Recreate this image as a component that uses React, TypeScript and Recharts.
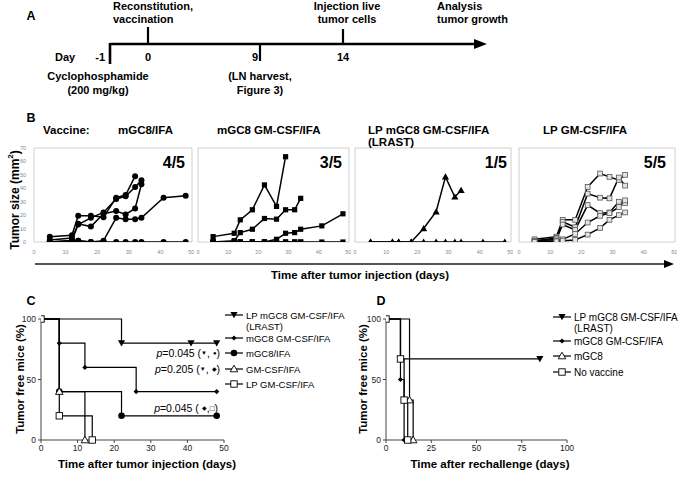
import React from "react";
import { LineChart, Line, XAxis, YAxis, ReferenceArea } from "recharts";

const FONT = '"Liberation Sans", Arial, Helvetica, sans-serif';

// A: treatment schedule
const scheduleDays = ["-1", "0", "9", "14"];
const scheduleTop = [
  ["Reconstitution,", "vaccination"],
  ["Injection live", "tumor cells"],
  ["Analysis", "tumor growth"],
];
const scheduleBottom = [
  ["Cyclophosphamide", "(200 mg/kg)"],
  ["(LN harvest,", "Figure 3)"],
];

// B: tumor size (mm2) per mouse, measured on these days
const measureDays = [5, 12, 14, 18, 22, 26, 29, 32, 34, 41, 48];
const mgc8IfaSizes = [
  [0, 1, 1, 0, 0, 0, 0, 0, 0, 0, 0],
  [0, 1, 1, 0, 1, 18, 17, 17, 18, 33, 34.5],
  [4, 5, 19.5, 19.5, 18.5, 33, 35, 49],
  [1.5, 3, 13, 18, 22, 32, 34, 41, 46],
  [0, 1, 13.5, 11.5, 21, 23, 20.5, 25, 43],
];
const mgc8GmcsfSizes = [
  [4, 6.5, 16.5, 24, 42.5, 26.5, 63.5],
  [0, 1, 7, 9.5, 17.5, 17, 24, 24, 32.5],
  [0, 0, 0, 0, 0, 2, 6.5, 7, 9.5, 12, 21],
  [0, 0, 0, 0, 0, 0, 0, 0, 0, 0, 0],
  [0, 0, 0, 0, 0, 0, 0, 0, 0],
];
const lpMgc8GmcsfSizes = [
  [0, 0, 0, 0, 0, 0, 0, 0, 0, 0, 0],
  [0, 0, 0, 0, 10, 22.5, 48.5, 33.5, 38.5],
];
const lpGmcsfSizes = [
  [2, 4, 16.5, 16.5, 41, 51, 48.5, 46, 50],
  [1, 3, 15, 11, 36, 33, 32.5, 48, 42],
  [0.5, 2, 13, 9, 27.5, 21.5, 22, 30, 29],
  [0, 1, 2, 6, 14.5, 19.5, 21.5, 26, 31],
  [0, 0.5, 1, 1.5, 5.5, 10.5, 16.5, 20, 22],
];
const vaccineTitles = ["mGC8/IFA", "mGC8 GM-CSF/IFA", "LP mGC8 GM-CSF/IFA", "LP GM-CSF/IFA"];
const tumorFractions = ["4/5", "3/5", "1/5", "5/5"];
const sizeTicks = [0, 10, 20, 30, 40, 50, 60, 70];
const dayTicks = [0, 10, 20, 30, 40, 50];

// C: tumor free mice after injection
const cGroups = ["LP mGC8 GM-CSF/IFA", "mGC8 GM-CSF/IFA", "mGC8/IFA", "GM-CSF/IFA", "LP GM-CSF/IFA"];
const cTimes = [[0, 22, 41, 48], [0, 5, 12, 26, 48], [0, 5, 22, 48], [0, 5, 12], [0, 5, 14]];
const cFree = [[100, 80, 80, 80], [100, 80, 60, 40, 40], [100, 40, 20, 20], [100, 40, 0], [100, 20, 0]];
const cPValues = ["0.045", "0.205", "0.045"];

// D: tumor free mice after rechallenge
const dGroups = ["LP mGC8 GM-CSF/IFA", "mGC8 GM-CSF/IFA", "mGC8", "No vaccine"];
const dTimes = [[0, 8, 85], [0, 8, 10], [0, 13, 15], [0, 8, 10, 12]];
const dFree = [[100, 67, 67], [100, 50, 0], [100, 33, 0], [100, 67, 33, 0]];

function shapeEl(shape: string, cx: number, cy: number) {
  switch (shape) {
    case "circle":
      return <circle cx={cx} cy={cy} r={3} fill="#000" />;
    case "square":
      return <rect x={cx - 2.6} y={cy - 2.6} width={5.2} height={5.2} fill="#000" />;
    case "triangle":
      return <polygon points={`${cx},${cy - 3.6} ${cx - 3.6},${cy + 2.6} ${cx + 3.6},${cy + 2.6}`} fill="#000" />;
    case "graySquare":
      return <rect x={cx - 2.4} y={cy - 2.4} width={4.8} height={4.8} fill="#e4e4e4" stroke="#555" strokeWidth={0.8} />;
    case "triDown":
      return <polygon points={`${cx - 3.6},${cy - 3} ${cx + 3.6},${cy - 3} ${cx},${cy + 3.2}`} fill="#000" />;
    case "diamond":
      return <polygon points={`${cx},${cy - 2.6} ${cx + 2.6},${cy} ${cx},${cy + 2.6} ${cx - 2.6},${cy}`} fill="#000" />;
    case "dot":
      return <circle cx={cx} cy={cy} r={3.3} fill="#000" />;
    case "triOpen":
      return (
        <polygon
          points={`${cx},${cy - 3.8} ${cx - 3.8},${cy + 2.8} ${cx + 3.8},${cy + 2.8}`}
          fill="#fff"
          stroke="#000"
          strokeWidth={0.9}
        />
      );
    default:
      return <rect x={cx - 3.2} y={cy - 3.2} width={6.4} height={6.4} fill="#fff" stroke="#000" strokeWidth={0.9} />;
  }
}

const makeDot = (shape: string, skipZero = false) => (props: any) => {
  const { cx, cy, index, payload } = props;
  if (cx == null || cy == null || (skipZero && payload && payload.t === 0)) {
    return <g key={`n${index}`} />;
  }
  return <g key={`d${index}`}>{shapeEl(shape, cx, cy)}</g>;
};

const toSeries = (vals: number[]) => vals.map((v, i) => ({ day: measureDays[i], size: v }));

function GrowthPanel({ x0, x50, sizes, shape, showY }: any) {
  const yW = 22;
  const tinyTick = { fontSize: 5.5, fill: "#888", fontFamily: FONT };
  return (
    <div style={{ position: "absolute", left: x0 - yW, top: 140 }}>
      <LineChart width={x50 - x0 + yW + 2} height={116} margin={{ top: 8, right: 2, bottom: 0, left: 0 }}>
        <XAxis
          type="number"
          dataKey="day"
          domain={[0, 50]}
          ticks={dayTicks}
          tick={tinyTick}
          tickLine={false}
          axisLine={false}
          height={14}
          allowDataOverflow
        />
        <YAxis
          type="number"
          domain={[0, 70]}
          ticks={sizeTicks}
          interval={0}
          width={yW}
          tick={showY ? tinyTick : false}
          tickLine={false}
          axisLine={false}
          allowDataOverflow
        />
        <ReferenceArea x1={0} x2={50} y1={0} y2={70} fill="none" stroke="#cfcfcf" strokeWidth={1} />
        {sizes.map((vals: number[], i: number) => (
          <Line
            key={i}
            data={toSeries(vals)}
            dataKey="size"
            type="linear"
            stroke="#000"
            strokeWidth={1.5}
            dot={makeDot(shape)}
            activeDot={false}
            isAnimationActive={false}
          />
        ))}
      </LineChart>
    </div>
  );
}

function SurvivalPlot({ left, width, marginLeft, marginRight, xMax, xTicks, times, free, shapes }: any) {
  const tickStyle = { fontSize: 8.5, fill: "#222", fontFamily: FONT };
  return (
    <div style={{ position: "absolute", left, top: 300 }}>
      <LineChart width={width} height={177} margin={{ top: 19, right: marginRight, bottom: 7, left: marginLeft }}>
        <XAxis
          type="number"
          dataKey="t"
          domain={[0, xMax]}
          ticks={xTicks}
          tickSize={3}
          tick={tickStyle}
          stroke="#444"
          height={30}
          allowDataOverflow
        />
        <YAxis type="number" domain={[0, 100]} ticks={[0, 50, 100]} tickSize={3} tick={tickStyle} stroke="#444" width={30} />
        {times.map((ts: number[], g: number) => (
          <Line
            key={g}
            data={ts.map((t, i) => ({ t, v: free[g][i] }))}
            dataKey="v"
            type="stepAfter"
            stroke="#000"
            strokeWidth={1.2}
            dot={makeDot(shapes[g], g !== times.length - 1)}
            activeDot={false}
            isAnimationActive={false}
          />
        ))}
      </LineChart>
    </div>
  );
}

const cShapes = ["triDown", "diamond", "dot", "triOpen", "sqOpen"];
const dShapes = ["triDown", "diamond", "triOpen", "sqOpen"];

function LegendBlock({ x, ys, labels, shapes, fontSize }: any) {
  return (
    <g>
      {labels.map((lab: string, i: number) => (
        <g key={i}>
          <line x1={x} x2={x + 18} y1={ys[i]} y2={ys[i]} stroke="#000" strokeWidth={1.2} />
          {shapeEl(shapes[i], x + 9, ys[i])}
          <text x={x + 21} y={ys[i]} dominantBaseline="central" fontSize={fontSize}>
            {lab}
          </text>
          {i === 0 && (
            <text x={x + 21} y={ys[i] + 11} dominantBaseline="central" fontSize={fontSize}>
              (LRAST)
            </text>
          )}
        </g>
      ))}
    </g>
  );
}

export default function App() {
  const bold = { fontWeight: 700 };
  return (
    <div
      style={{
        position: "absolute",
        left: 0,
        top: 0,
        width: 685,
        height: 477,
        background: "#fff",
        overflow: "hidden",
        fontFamily: FONT,
      }}
    >
      <GrowthPanel x0={34} x50={192} sizes={mgc8IfaSizes} shape="circle" showY={true} />
      <GrowthPanel x0={198} x50={349} sizes={mgc8GmcsfSizes} shape="square" showY={false} />
      <GrowthPanel x0={355} x50={511} sizes={lpMgc8GmcsfSizes} shape="triangle" showY={false} />
      <GrowthPanel x0={519} x50={675} sizes={lpGmcsfSizes} shape="graySquare" showY={false} />

      <SurvivalPlot
        left={0}
        width={330}
        marginLeft={11}
        marginRight={106}
        xMax={50}
        xTicks={[0, 10, 20, 30, 40, 50]}
        times={cTimes}
        free={cFree}
        shapes={cShapes}
      />
      <SurvivalPlot
        left={330}
        width={355}
        marginLeft={26}
        marginRight={118}
        xMax={100}
        xTicks={[0, 25, 50, 75, 100]}
        times={dTimes}
        free={dFree}
        shapes={dShapes}
      />

      <svg
        width={685}
        height={477}
        style={{ position: "absolute", left: 0, top: 0, pointerEvents: "none" }}
        fontFamily={FONT}
        fill="#000"
      >
        {/* panel A */}
        <text x={31} y={20} fontSize={12.5} style={bold} textAnchor="middle">A</text>
        <line x1={110} x2={476} y1={44} y2={44} stroke="#000" strokeWidth={2.6} />
        <polygon points="487,44 474,39 474,49" fill="#000" />
        <line x1={110} x2={110} y1={43} y2={64} stroke="#000" strokeWidth={2.6} />
        <line x1={148} x2={148} y1={27} y2={45} stroke="#000" strokeWidth={2.2} />
        <line x1={260} x2={260} y1={43} y2={61} stroke="#000" strokeWidth={2.2} />
        <line x1={343} x2={343} y1={29} y2={45} stroke="#000" strokeWidth={2.2} />
        <g fontSize={11} style={bold}>
          <text x={55} y={61}>Day</text>
          <text x={105} y={61} textAnchor="end">{scheduleDays[0]}</text>
          <text x={148} y={61} textAnchor="middle">{scheduleDays[1]}</text>
          <text x={255} y={61} textAnchor="middle">{scheduleDays[2]}</text>
          <text x={343} y={61} textAnchor="middle">{scheduleDays[3]}</text>
          <text x={113} y={10}>{scheduleTop[0][0]}</text>
          <text x={113} y={23}>{scheduleTop[0][1]}</text>
          <text x={347} y={10} textAnchor="middle">{scheduleTop[1][0]}</text>
          <text x={347} y={23} textAnchor="middle">{scheduleTop[1][1]}</text>
          <text x={437} y={10}>{scheduleTop[2][0]}</text>
          <text x={437} y={23}>{scheduleTop[2][1]}</text>
          <text x={98} y={80} textAnchor="middle">{scheduleBottom[0][0]}</text>
          <text x={98} y={94} textAnchor="middle">{scheduleBottom[0][1]}</text>
          <text x={260} y={80} textAnchor="middle">{scheduleBottom[1][0]}</text>
          <text x={260} y={94} textAnchor="middle">{scheduleBottom[1][1]}</text>
        </g>

        {/* panel B */}
        <text x={31} y={122} fontSize={12.5} style={bold} textAnchor="middle">B</text>
        <g fontSize={11.5} style={bold}>
          <text x={43} y={134}>Vaccine:</text>
          <text x={118} y={134}>{vaccineTitles[0]}</text>
          <text x={217} y={134}>{vaccineTitles[1]}</text>
          <text x={368} y={134}>{vaccineTitles[2]}</text>
          <text x={368} y={146}>(LRAST)</text>
          <text x={543} y={134}>{vaccineTitles[3]}</text>
        </g>
        <g fontSize={16} style={bold} textAnchor="end">
          <text x={185} y={168}>{tumorFractions[0]}</text>
          <text x={342} y={168}>{tumorFractions[1]}</text>
          <text x={507} y={168}>{tumorFractions[2]}</text>
          <text x={666} y={168}>{tumorFractions[3]}</text>
        </g>
        <text transform="translate(15,200) rotate(-90)" textAnchor="middle" dominantBaseline="central" fontSize={12} style={bold}>
          Tumor size (mm<tspan fontSize={8} dy={-5}>2</tspan><tspan dy={5}>)</tspan>
        </text>
        <line x1={35} x2={666} y1={264} y2={264} stroke="#555" strokeWidth={1.8} />
        <polygon points="674,264 664,260 664,268" fill="#000" />
        <text x={360} y={279} textAnchor="middle" fontSize={11.5} style={bold}>Time after tumor injection (days)</text>

        {/* panel C */}
        <text x={31} y={305} fontSize={12.5} style={bold} textAnchor="middle">C</text>
        <text transform="translate(20,379) rotate(-90)" textAnchor="middle" dominantBaseline="central" fontSize={11.5} style={bold}>
          Tumor free mice (%)
        </text>
        <text x={147} y={468} textAnchor="middle" fontSize={11.5} style={bold}>Time after tumor injection (days)</text>
        <LegendBlock x={225} ys={[315, 338, 353, 369, 384]} labels={cGroups} shapes={cShapes} fontSize={9.5} />
        <g fontSize={10.5} textAnchor="end" dominantBaseline="central">
          <text x={220} y={353}>
            <tspan fontStyle="italic">p</tspan>={cPValues[0]} (<tspan fontSize={6}>▼</tspan>, <tspan fontSize={6}>●</tspan>)
          </text>
          <text x={220} y={369}>
            <tspan fontStyle="italic">p</tspan>={cPValues[1]} (<tspan fontSize={6}>▼</tspan>, <tspan fontSize={6}>◆</tspan>)
          </text>
          <text x={218} y={408}>
            <tspan fontStyle="italic">p</tspan>={cPValues[2]} ( <tspan fontSize={6}>◆</tspan>,<tspan fontSize={8}>□</tspan>)
          </text>
        </g>

        {/* panel D */}
        <text x={381} y={305} fontSize={12.5} style={bold} textAnchor="middle">D</text>
        <text transform="translate(363,379) rotate(-90)" textAnchor="middle" dominantBaseline="central" fontSize={11.5} style={bold}>
          Tumor free mice (%)
        </text>
        <text x={490} y={468} textAnchor="middle" fontSize={11.5} style={bold}>Time after rechallenge (days)</text>
        <LegendBlock x={553} ys={[317, 341, 356, 372]} labels={dGroups} shapes={dShapes} fontSize={10} />
      </svg>
    </div>
  );
}
